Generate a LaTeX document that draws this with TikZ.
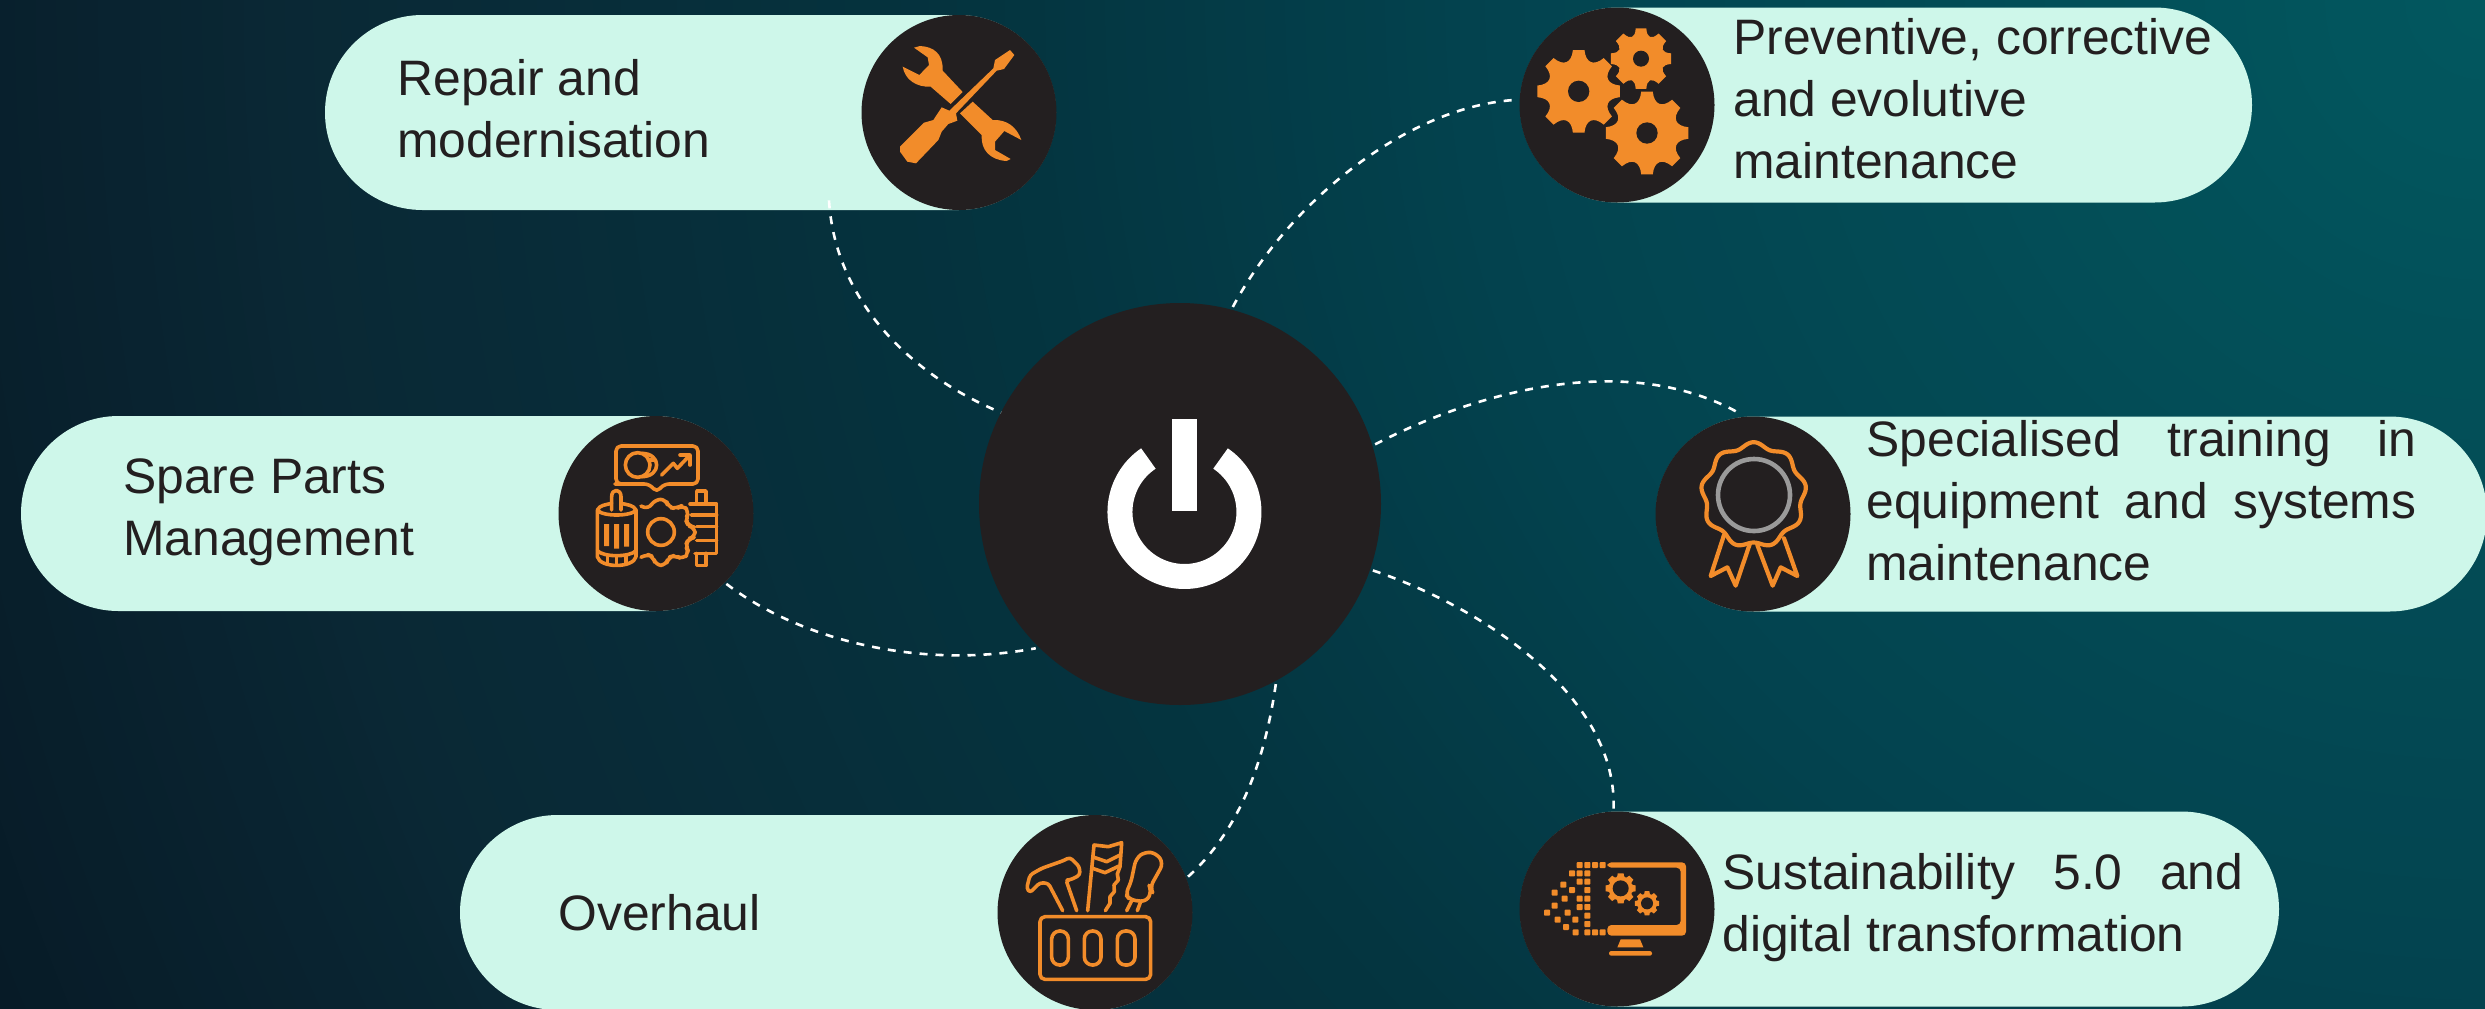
\documentclass[tikz,border=0pt]{standalone}
\usepackage{fontspec}
\setmainfont{Liberation Sans}
\usetikzlibrary{calc}
\definecolor{hubdark}{HTML}{231F20}
\definecolor{mintpill}{HTML}{CEF7EA}
\definecolor{iconorange}{HTML}{F28C2A}
\definecolor{ringgrey}{HTML}{9A9A9A}
\definecolor{glowa}{HTML}{02585F}
\definecolor{glowb}{HTML}{03434F}
\definecolor{glowc}{HTML}{04343F}
\definecolor{glowd}{HTML}{0A2835}
\definecolor{glowe}{HTML}{071A26}
\tikzset{
  pillbox/.style={rectangle,fill=mintpill,rounded corners=48.75pt,minimum height=97.5pt,inner sep=0pt},
  iconcircle/.style={circle,fill=hubdark,minimum size=97.5pt,inner sep=0pt,outer sep=1pt},
  hubcircle/.style={circle,fill=hubdark,minimum size=201pt,inner sep=0pt,outer sep=1.5pt},
  label/.style={anchor=west,inner sep=0pt,align=left,text=hubdark,font=\fontsize{24.9pt}{31pt}\selectfont},
  link/.style={draw=white,line width=1.3pt,dash pattern=on 4pt off 4pt},
  cropframe/.style={x=0.16667pt,y=-0.16667pt},
  iconline/.style={draw=iconorange,line width=1.8pt,line join=round,line cap=round},
  iconfill/.style={fill=iconorange}
}
\newcommand{\cogwheel}[5]{%
  \begin{scope}[shift={(#1,#2)}]
  \fill[iconorange] ({-#5}:#3) \foreach \k in {0,45,...,315}{
     -- ({\k+#5}:#3) .. controls ({\k+#5+6}:{0.70*#3}) and ({\k+39-#5}:{0.70*#3}) .. ({\k+45-#5}:#3)} -- cycle;
  \fill[hubdark] (0,0) circle[radius=#4];
  \end{scope}}
\begin{document}
\begin{tikzpicture}[x=0.5pt,y=-0.5pt]
\useasboundingbox (0,0) rectangle (2485,1008);
\begin{scope}
\clip (0,0) rectangle (2485,1008);
\foreach \ca/\cb/\ra/\rb in {glowe/glowd/2720/2200,glowd/glowc/2200/1500,glowc/glowb/1500/1000,glowb/glowa/1000/0}{
  \foreach \i in {0,...,24}{
    \pgfmathsetmacro\pct{4*\i}
    \pgfmathsetmacro\rr{\ra+(\rb-\ra)*(\i/25)}
    \colorlet{glowcur}{\cb!\pct!\ca}
    \fill[glowcur] (2485,0) circle[radius=\rr];
  }
}
\end{scope}

% pills
\node[pillbox,minimum width=365.5pt] (repairpill) at (690.5,112.5) {};
\node[pillbox,minimum width=366pt] (gearspill) at (1886,105) {};
\node[pillbox,minimum width=366pt] (sparepill) at (387,513.5) {};
\node[pillbox,minimum width=415.5pt] (medalpill) at (2071.5,514) {};
\node[pillbox,minimum width=366pt] (overhaulpill) at (826,912.5) {};
\node[pillbox,minimum width=379.5pt] (sustainpill) at (1899.5,909) {};

% circles
\node[iconcircle] (repair) at (959,112.5) {};
\node[iconcircle] (gears) at (1617,105) {};
\node[iconcircle] (spare) at (656,513.5) {};
\node[iconcircle] (medal) at (1753,514) {};
\node[iconcircle] (overhaul) at (1095,912.5) {};
\node[iconcircle] (sustain) at (1617,909) {};
\node[hubcircle] (hub) at (1180,504) {};

% labels
\node[label] (t1) at (397,109) {Repair and\\modernisation};
\node[label] (t2) at (1733,99) {Preventive, corrective\\and evolutive\\maintenance};
\node[label] (t3) at (123,512) {Spare Parts\\Management};
\node[label] (t4) at (1866,501) {\makebox[275pt][s]{Specialised\hfill training\hfill in}\\\makebox[275pt][s]{equipment\hfill and\hfill systems}\\maintenance};
\node[label] (t5) at (558,913) {Overhaul};
\node[label] (t6) at (1722,908) {\makebox[260.5pt][s]{Sustainability\hfill 5.0\hfill and}\\digital transformation};

% connectors
\coordinate (repairfoot) at ([xshift=69.25pt,yshift=5pt]repairpill.south);
\draw[link,shorten >=-1.5pt] (repairfoot) .. controls (835,300) and (910,375) .. (hub.153);
\draw[link] (hub.75.6) .. controls (1290,200) and (1410,105) .. (gears.177);
\draw[link] (hub.17) .. controls (1480,390) and (1630,350) .. (medal.96);
\draw[link] (spare.-45) .. controls (800,640) and (920,670) .. (hub.225);
\draw[link] (hub.-62) .. controls (1265,760) and (1240,830) .. (overhaul.21);
\draw[link] (hub.-19) .. controls (1490,610) and (1618,700) .. (sustain.92);

% power symbol
\draw[white,line width=12.5pt] (1148.4,458.5) arc[start angle=124,end angle=416,radius=32.25pt];
\fill[white] (1172,419) rectangle (1197,511);

% repair icon
\begin{scope}[shift={(820,0)},cropframe]
\fill[iconfill] (282,143) -- (300,138) .. controls (340,140) and (370,160) .. (368,212) -- (428,276) -- (392,312) -- (332,260)
  .. controls (290,262) and (255,240) .. (248,200) -- (298,225) -- (327,195) -- (323,172) -- cycle;
\fill[iconfill] (458,305) -- (420,340) -- (485,405) .. controls (482,450) and (510,480) .. (560,483) -- (572,477) -- (525,450) -- (525,425) -- (553,393) -- (604,420)
  .. controls (590,380) and (560,358) .. (518,360) -- cycle;
\fill[iconfill] (570,150) -- (583,165) -- (552,207) -- (530,212) -- (408,340) -- (412,362) -- (385,372) -- (365,395) -- (355,420) -- (288,490) -- (262,485) -- (240,455) -- (240,440) -- (312,368) -- (340,360) -- (365,322) -- (388,332) -- (520,205) -- (525,180) -- cycle;
\end{scope}

% gears icon
\begin{scope}[shift={(1490,0)},cropframe]
\cogwheel{266}{274}{125}{32}{8}
\cogwheel{453}{176}{92}{24}{10}
\cogwheel{471}{399}{125}{32}{8}
\end{scope}

% spare parts icon
\begin{scope}[shift={(540,410)},cropframe,iconline]
\draw[rounded corners=2.5pt] (328,222) -- (240,222) -- (228,222) -- (228,108) -- (474,108) -- (474,222) -- (372,222) -- (350,247) -- cycle;
\draw (293,165) circle[radius=37];
\draw (305,130) .. controls (365,130) and (365,200) .. (305,200);
\draw (325,150) -- (345,150);
\draw (365,195) -- (400,160) -- (412,175) -- (450,135);
\draw (420,135) -- (450,135) -- (450,165);
\draw (172,300) .. controls (180,285) and (195,285) .. (215,280);
\draw (243,280) .. controls (265,285) and (280,285) .. (288,300);
\draw (172,300) -- (172,440) .. controls (180,475) and (280,475) .. (288,440) -- (288,300);
\draw (172,300) .. controls (185,320) and (275,320) .. (288,300);
\draw (215,300) -- (215,260) .. controls (215,235) and (243,235) .. (243,260) -- (243,300);
\draw (172,422) .. controls (190,442) and (270,442) .. (288,422);
\draw (202,438) -- (202,462) (230,442) -- (230,465) (258,438) -- (258,462);
\fill[iconorange,draw=none] (192,342) rectangle (207,408) (222,342) rectangle (237,416) (252,342) rectangle (267,410);
\draw[rounded corners=3pt] (303,288) -- (325,298) -- (345,268) -- (378,268) -- (385,292) -- (410,296) -- (428,285) -- (448,305) -- (436,328) -- (445,348) -- (465,352) -- (465,382) -- (445,386) -- (436,408) -- (448,428) -- (428,448) -- (405,436) -- (385,442) -- (378,466) -- (347,466) -- (340,440) -- (320,432) -- (303,442);
\draw (363,366) circle[radius=40];
\draw (450,282) -- (530,282) -- (530,430) -- (465,430);
\draw (455,315) -- (530,315) (470,350) -- (530,350) (470,392) -- (530,392);
\draw (470,282) -- (470,243) -- (498,243) -- (498,282);
\draw (470,430) -- (470,466) -- (498,466) -- (498,430);
\end{scope}

% medal icon
\begin{scope}[shift={(1640,410)},cropframe]
\draw[ringgrey,line width=2.3pt] (342,255) circle[radius=108];
\draw[iconline,line width=2.1pt] plot[domain=0:360,samples=145,smooth] ({341+(150.5+8*cos(9*\x))*cos(\x+90)},{255-(150.5+8*cos(9*\x))*sin(\x+90)});
\draw[iconline,line width=2.1pt] (252,375) -- (212,498) -- (262,472) -- (287,527) -- (330,400);
\draw[iconline,line width=2.1pt] (432,385) -- (472,498) -- (422,472) -- (398,527) -- (352,405);
\end{scope}

% toolbox icon
\begin{scope}[shift={(980,800)},cropframe,iconline]
\draw[rounded corners=2.5pt] (180,350) rectangle (512,538);
\draw[rounded corners=4pt] (215,393) rectangle (265,495);
\draw[rounded corners=4pt] (313,393) rectangle (363,495);
\draw[rounded corners=4pt] (412,393) rectangle (465,495);
\draw[rounded corners=1.5pt] (248,332) -- (205,250) -- (180,248) -- (150,278) -- (140,265) -- (150,225) -- (185,205) -- (250,182) -- (270,172) -- (298,200) -- (300,225) -- (270,240) -- (258,240) -- (290,332);
\draw (323,332) -- (342,135) -- (385,140) -- (425,128) -- (420,200) -- (412,222) -- (415,240) -- (402,255) -- (403,275) -- (390,290) -- (390,310) -- (376,332);
\draw (342,172) -- (380,185) -- (420,165);
\draw (338,205) -- (375,218) -- (417,198);
\draw[rounded corners=3pt] (468,175) -- (452,250) -- (436,282) -- (450,300) -- (500,305) -- (515,272) -- (510,262) -- (550,190) -- (530,160) -- (495,155) -- cycle;
\draw (440,332) -- (455,302) (472,332) -- (482,305);
\end{scope}

% digital monitor icon
\begin{scope}[shift={(1500,800)},cropframe]
\fill[iconfill,rounded corners=2pt] (322,187) -- (558,187) -- (558,407) -- (322,407) -- (322,375) -- (542,375) -- (542,203) -- (322,203) -- cycle;
\fill[iconfill] (362,418) -- (420,418) -- (430,442) -- (352,442) -- cycle;
\fill[iconfill,rounded corners=1.1pt] (327,453) rectangle (456,467);
\cogwheel{362}{265}{46}{24}{11}
\cogwheel{441}{310}{37}{18}{11}
\foreach \sx/\sy in {239/195,262/195,285/195,308/195,216/220,239/220,262/220,239/245,262/245,190/254,216/270,262/270,164/278,194/296,239/296,262/296,164/317,239/321,262/321,141/338,203/338,262/347,173/359,226/359,262/372,198/381,227/397,262/397,285/397,308/397}
  \fill[iconfill,rounded corners=0.4pt] ({\sx-9},{\sy-9}) rectangle ({\sx+9},{\sy+9});
\end{scope}
\end{tikzpicture}
\end{document}
